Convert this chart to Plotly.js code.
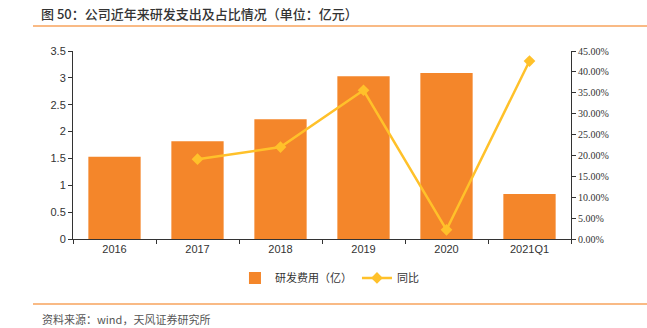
<!DOCTYPE html>
<html><head><meta charset="utf-8">
<script src="https://cdn.plot.ly/plotly-3.0.1.min.js"></script>
<style>html,body{margin:0;padding:0;background:#fff}#c{width:647px;height:328px}</style>
</head><body><div id="c"></div>
<script>
const categories = ['2016','2017','2018','2019','2020','2021Q1'];
const rdExpense = [1.53, 1.82, 2.23, 3.03, 3.09, 0.84];
const yoyCats = ['2017','2018','2019','2020','2021Q1'];
const yoy = [0.191, 0.220, 0.356, 0.022, 0.426];
const leftTicks = [0,0.5,1,1.5,2,2.5,3,3.5];
const leftTickText = ['0','0.5','1','1.5','2','2.5','3','3.5'];

const barColor = '#F4862A';
const lineColor = '#FFC12A';
const sans = 'Liberation Sans, Arial, sans-serif';
const cjk = 'Noto Sans CJK SC, sans-serif';

const traces = [
  {type:'bar', x:categories, y:rdExpense, name:'研发费用（亿）', marker:{color:barColor}, width:0.63, yaxis:'y'},
  {type:'scatter', mode:'lines+markers', x:yoyCats, y:yoy, name:'同比', yaxis:'y2',
   line:{color:lineColor, width:2.5}, marker:{symbol:'diamond', size:9, color:lineColor}}
];
const layout = {
  width:647, height:328,
  margin:{l:73, r:76, t:51, b:89},
  paper_bgcolor:'#fff', plot_bgcolor:'#fff',
  showlegend:true,
  legend:{orientation:'h', x:0.515, xanchor:'center', y:-0.207, yanchor:'middle',
    font:{family:cjk, size:11, color:'#333'}},
  font:{family:sans, size:11, color:'#333'},
  xaxis:{type:'category', tickson:'boundaries', ticks:'outside', ticklen:4, tickcolor:'#333',
    showline:true, linecolor:'#333', linewidth:1, showgrid:false,
    tickfont:{family:sans, size:11, color:'#333'}},
  yaxis:{range:[0,3.5], tickvals:leftTicks, ticktext:leftTickText, ticks:'outside', ticklen:4,
    tickcolor:'#333', showline:true, linecolor:'#333', showgrid:false, zeroline:false,
    tickfont:{family:sans, size:11, color:'#333'}},
  yaxis2:{overlaying:'y', side:'right', range:[0,0.45], dtick:0.05, tickformat:'.2%',
    ticks:'outside', ticklen:4, tickcolor:'#333', showline:true, linecolor:'#333',
    showgrid:false, zeroline:false,
    tickfont:{family:'Liberation Serif, Times New Roman, serif', size:10, color:'#333'}},
  bargap:0.37,
  shapes:[
    {type:'line', xref:'paper', yref:'paper', x0:-0.0803, x1:1.1526, y0:1.133, y1:1.133,
     line:{color:'#F7A35C', width:1.5}},
    {type:'line', xref:'paper', yref:'paper', x0:-0.0803, x1:1.1526, y0:-0.346, y1:-0.346,
     line:{color:'#F7A35C', width:1.5}}
  ],
  annotations:[
    {xref:'paper', yref:'paper', x:-0.0683, y:1.197, xanchor:'left', yanchor:'middle', showarrow:false,
     text:'图 50：公司近年来研发支出及占比情况（单位：亿元）', font:{family:cjk, size:13, weight:500, color:'#333'}},
    {xref:'paper', yref:'paper', x:-0.0663, y:-0.426, xanchor:'left', yanchor:'middle', showarrow:false,
     text:'资料来源：wind，天风证券研究所', font:{family:cjk, size:11, color:'#555'}}
  ]
};
Plotly.newPlot('c', traces, layout, {displayModeBar:false, staticPlot:true});
</script></body></html>
